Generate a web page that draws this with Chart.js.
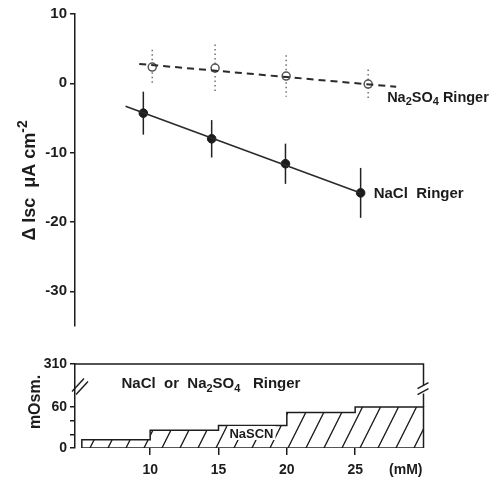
<!DOCTYPE html>
<html><head><meta charset="utf-8">
<script src="https://cdn.jsdelivr.net/npm/chart.js@4/dist/chart.umd.min.js"></script>
<style>
html,body{margin:0;padding:0;background:#fff;}
#wrap{position:relative;width:495px;height:477px;background:#fff;}
#c1{position:absolute;left:0;top:0;}
#c2{position:absolute;left:0;top:340px;}
</style></head><body>
<div id="wrap">
<canvas id="c1" width="495" height="340"></canvas>
<canvas id="c2" width="495" height="137"></canvas>
</div>
<script>
// ---------- Upper panel: change in short-circuit current ----------
const naclConc = [9.5, 14.5, 19.9, 25.4];
const naclIsc  = [-4.3, -8.0, -11.6, -15.8];
const naclErr  = [3.1, 2.7, 2.9, 3.6];
const so4Conc  = [10.15, 14.75, 19.95, 25.95];
const so4Isc   = [2.35, 2.2, 1.05, -0.1];
const so4Err   = [2.5, 3.4, 3.0, 2.1];
const naclFitConc = [8.2, 25.4];
const naclFitIsc  = [-3.3, -15.8];
const so4FitConc  = [9.2, 28.0];
const so4FitIsc   = [2.8, -0.5];
const iscTicks = [10, 0, -10, -20, -30];

// ---------- Lower panel: osmolality of the bathing solution ----------
const stepConc  = [5, 10, 15, 20, 25, 30];
const nascnOsm  = [12, 26, 33, 52, 60, 60];
const ringerOsm = 310;
const osmTicks  = [0, 20, 40, 60];
const osmLabelled = [0, 60];
const concTicks = [10, 15, 20, 25];

// broken-axis mapping: the 310 mOsm level is drawn at this position of the lower axis
const OSM_AXIS_TOP = 123;
const MM_LABEL_POS = 28.7;

const INK = '#1c1c1c';
const FONT = "'Liberation Sans', Arial, sans-serif";

const pts = (xs, ys) => xs.map((x, i) => ({x, y: ys[i]}));

const errorBars = {
  id: 'errorBars',
  beforeDatasetsDraw(chart) {
    const {ctx, scales: {x, y}} = chart;
    chart.data.datasets.forEach(ds => {
      if (!ds.errors) return;
      ctx.save();
      ctx.strokeStyle = ds.errColor; ctx.lineWidth = ds.errWidth;
      ctx.setLineDash(ds.errDash || []);
      ds.data.forEach((p, j) => {
        const px = x.getPixelForValue(p.x);
        ctx.beginPath();
        ctx.moveTo(px, y.getPixelForValue(p.y + ds.errors[j]));
        ctx.lineTo(px, y.getPixelForValue(p.y - ds.errors[j]));
        ctx.stroke();
      });
      ctx.restore();
    });
  }
};

function drawRich(ctx, parts, x, y, size) {
  let cx = x;
  parts.forEach(([t, k]) => {
    const s = k === 'n' ? size : Math.round(size * 0.75);
    ctx.font = 'bold ' + s + 'px ' + FONT;
    const dy = k === 'sub' ? size * 0.3 : (k === 'sup' ? -size * 0.4 : 0);
    ctx.fillText(t, cx, y + dy);
    cx += ctx.measureText(t).width;
  });
  return cx - x;
}
function richWidth(ctx, parts, size) {
  let w = 0;
  parts.forEach(([t, k]) => {
    const s = k === 'n' ? size : Math.round(size * 0.75);
    ctx.font = 'bold ' + s + 'px ' + FONT;
    w += ctx.measureText(t).width;
  });
  return w;
}

const upperText = {
  id: 'upperText',
  afterDraw(chart) {
    const {ctx, scales: {x, y}} = chart;
    ctx.save();
    ctx.fillStyle = INK;
    ctx.textBaseline = 'middle';
    ctx.textAlign = 'left';
    const nx = x.getPixelForValue(naclConc[naclConc.length - 1]);
    const ny = y.getPixelForValue(naclIsc[naclIsc.length - 1]);
    drawRich(ctx, [['NaCl  Ringer', 'n']], nx + 13, ny + 1, 15);
    const sx = x.getPixelForValue(so4Conc[so4Conc.length - 1]);
    const sy = y.getPixelForValue(so4Isc[so4Isc.length - 1]);
    drawRich(ctx, [['Na', 'n'], ['2', 'sub'], ['SO', 'n'], ['4', 'sub'], [' Ringer', 'n']], sx + 19, sy + 14, 14.5);
    const parts = [['\u0394 Isc  \u03bcA cm', 'n'], ['-2', 'sup']];
    const w = richWidth(ctx, parts, 18);
    ctx.translate(30, y.getPixelForValue(-14));
    ctx.rotate(-Math.PI / 2);
    drawRich(ctx, parts, -w / 2, 0, 18);
    ctx.restore();
  }
};

new Chart(document.getElementById('c1'), {
  type: 'scatter',
  data: {
    datasets: [
      {type: 'line', label: 'NaCl fit', data: pts(naclFitConc, naclFitIsc), borderColor: '#2a2a2a', borderWidth: 1.6, pointRadius: 0, fill: false},
      {type: 'line', label: 'Na2SO4 fit', data: pts(so4FitConc, so4FitIsc), borderColor: '#2a2a2a', borderWidth: 2, borderDash: [7, 5], pointRadius: 0, fill: false},
      {label: 'NaCl Ringer', data: pts(naclConc, naclIsc), errors: naclErr, errColor: '#222', errWidth: 1.5,
       pointRadius: 4.3, backgroundColor: INK, borderColor: INK, borderWidth: 1},
      {label: 'Na2SO4 Ringer', data: pts(so4Conc, so4Isc), errors: so4Err, errColor: '#666', errWidth: 1.4, errDash: [1.5, 3],
       pointRadius: 4, backgroundColor: '#fff', borderColor: '#555', borderWidth: 1.5}
    ]
  },
  options: {
    responsive: false, animation: false, devicePixelRatio: 1,
    layout: {padding: {top: 14, bottom: 14, right: 10, left: 0}},
    plugins: {legend: {display: false}, tooltip: {enabled: false}},
    scales: {
      x: {type: 'linear', min: 4.5, max: 34.5, display: false},
      y: {
        min: -35, max: 10,
        afterBuildTicks: s => { s.ticks = iscTicks.map(v => ({value: v})); },
        afterFit: s => { s.width = 75; },
        border: {display: true, color: INK, width: 1.5},
        grid: {drawOnChartArea: false, tickLength: 5, color: INK, lineWidth: 1.5},
        ticks: {color: INK, padding: 3, font: {family: FONT, size: 15, weight: 'bold'}}
      }
    }
  },
  plugins: [errorBars, upperText]
});

// ---------- lower panel ----------
function hatchPattern() {
  const c = document.createElement('canvas');
  c.width = 18; c.height = 36;
  const g = c.getContext('2d');
  g.strokeStyle = INK; g.lineWidth = 1.3;
  g.beginPath();
  [-18, 0, 18].forEach(o => { g.moveTo(-9 + o, 54); g.lineTo(27 + o, -18); });
  g.stroke();
  return g.createPattern(c, 'repeat');
}

const lowerDecor = {
  id: 'lowerDecor',
  afterDraw(chart) {
    const {ctx, scales: {x, y}} = chart;
    ctx.save();
    ctx.fillStyle = INK; ctx.strokeStyle = INK; ctx.lineWidth = 1.4;
    const yb = (y.getPixelForValue(60) + y.getPixelForValue(OSM_AXIS_TOP)) / 2;
    const ax = x.left;
    [[0, 0], [4, 3]].forEach(([dx, dy]) => {
      ctx.beginPath(); ctx.moveTo(ax - 3 + dx, yb + 6 + dy); ctx.lineTo(ax + 9 + dx, yb - 7 + dy); ctx.stroke();
    });
    const rx = x.getPixelForValue(stepConc[stepConc.length - 1]);
    const ryb = yb + 4;
    ctx.fillStyle = '#fff';
    ctx.fillRect(rx - 3, ryb - 4, 6, 8);
    ctx.beginPath();
    ctx.moveTo(rx - 6, ryb - 1); ctx.lineTo(rx + 5, ryb - 7);
    ctx.moveTo(rx - 6, ryb + 5); ctx.lineTo(rx + 5, ryb - 1);
    ctx.stroke();
    ctx.fillStyle = INK;
    ctx.textBaseline = 'middle'; ctx.textAlign = 'left';
    drawRich(ctx, [['NaCl  or  Na', 'n'], ['2', 'sub'], ['SO', 'n'], ['4', 'sub'], ['   Ringer', 'n']],
      x.getPixelForValue(7.9), y.getPixelForValue(OSM_AXIS_TOP) + 20, 15);
    ctx.font = 'bold 13px ' + FONT;
    const tw = ctx.measureText('NaSCN').width;
    const tx = x.getPixelForValue(15.8), ty = y.getPixelForValue(22);
    ctx.fillStyle = '#fff';
    ctx.fillRect(tx - 2, ty - 7, tw + 4, 14);
    ctx.fillStyle = INK;
    ctx.fillText('NaSCN', tx, ty + 1);
    ctx.translate(36, (y.getPixelForValue(0) + y.getPixelForValue(OSM_AXIS_TOP)) / 2 - 4);
    ctx.rotate(-Math.PI / 2);
    ctx.textAlign = 'center';
    ctx.font = 'bold 16px ' + FONT;
    ctx.fillText('mOsm.', 0, 0);
    ctx.restore();
  }
};

const stepData = [{x: stepConc[0], y: 0}].concat(pts(stepConc, nascnOsm), [{x: stepConc[stepConc.length - 1], y: 0}]);
const lastC = stepConc[stepConc.length - 1];

new Chart(document.getElementById('c2'), {
  type: 'line',
  data: {
    datasets: [
      {label: 'NaSCN', data: stepData, stepped: 'before', fill: 'origin', backgroundColor: hatchPattern(),
       borderColor: INK, borderWidth: 1.5, pointRadius: 0},
      {label: 'base', data: [{x: stepConc[0], y: 0}, {x: lastC, y: 0}], borderColor: INK, borderWidth: 1.5, pointRadius: 0, fill: false},
      {label: 'NaCl or Na2SO4 Ringer', data: [{x: 4.5, y: OSM_AXIS_TOP}, {x: lastC, y: OSM_AXIS_TOP}, {x: lastC, y: nascnOsm[nascnOsm.length - 1]}],
       borderColor: INK, borderWidth: 1.5, pointRadius: 0, fill: false, clip: false}
    ]
  },
  options: {
    responsive: false, animation: false, devicePixelRatio: 1,
    layout: {padding: {top: 24, bottom: 0, right: 10, left: 0}},
    plugins: {legend: {display: false}, tooltip: {enabled: false}},
    scales: {
      x: {
        type: 'linear', min: 4.5, max: 34.5,
        afterBuildTicks: s => { s.ticks = concTicks.concat([MM_LABEL_POS]).map(v => ({value: v})); },
        afterFit: s => { s.height = 29; },
        border: {display: false},
        grid: {drawOnChartArea: false, tickLength: 7, lineWidth: 1.5,
               color: c => (c.tick && c.tick.value === MM_LABEL_POS) ? 'rgba(0,0,0,0)' : INK},
        ticks: {color: INK, padding: 7, maxRotation: 0, autoSkip: false,
                font: {family: FONT, size: 14, weight: 'bold'},
                callback: v => v === MM_LABEL_POS ? '(mM)' : String(v)}
      },
      y: {
        min: 0, max: OSM_AXIS_TOP,
        afterBuildTicks: s => { s.ticks = osmTicks.concat([OSM_AXIS_TOP]).map(v => ({value: v})); },
        afterFit: s => { s.width = 75; },
        border: {display: true, color: INK, width: 1.5},
        grid: {drawOnChartArea: false, tickLength: 5, color: INK, lineWidth: 1.5},
        ticks: {color: INK, padding: 3, font: {family: FONT, size: 14, weight: 'bold'},
                callback: v => v === OSM_AXIS_TOP ? String(ringerOsm) : (osmLabelled.includes(v) ? String(v) : '')}
      }
    }
  },
  plugins: [lowerDecor]
});
</script>
</body></html>
